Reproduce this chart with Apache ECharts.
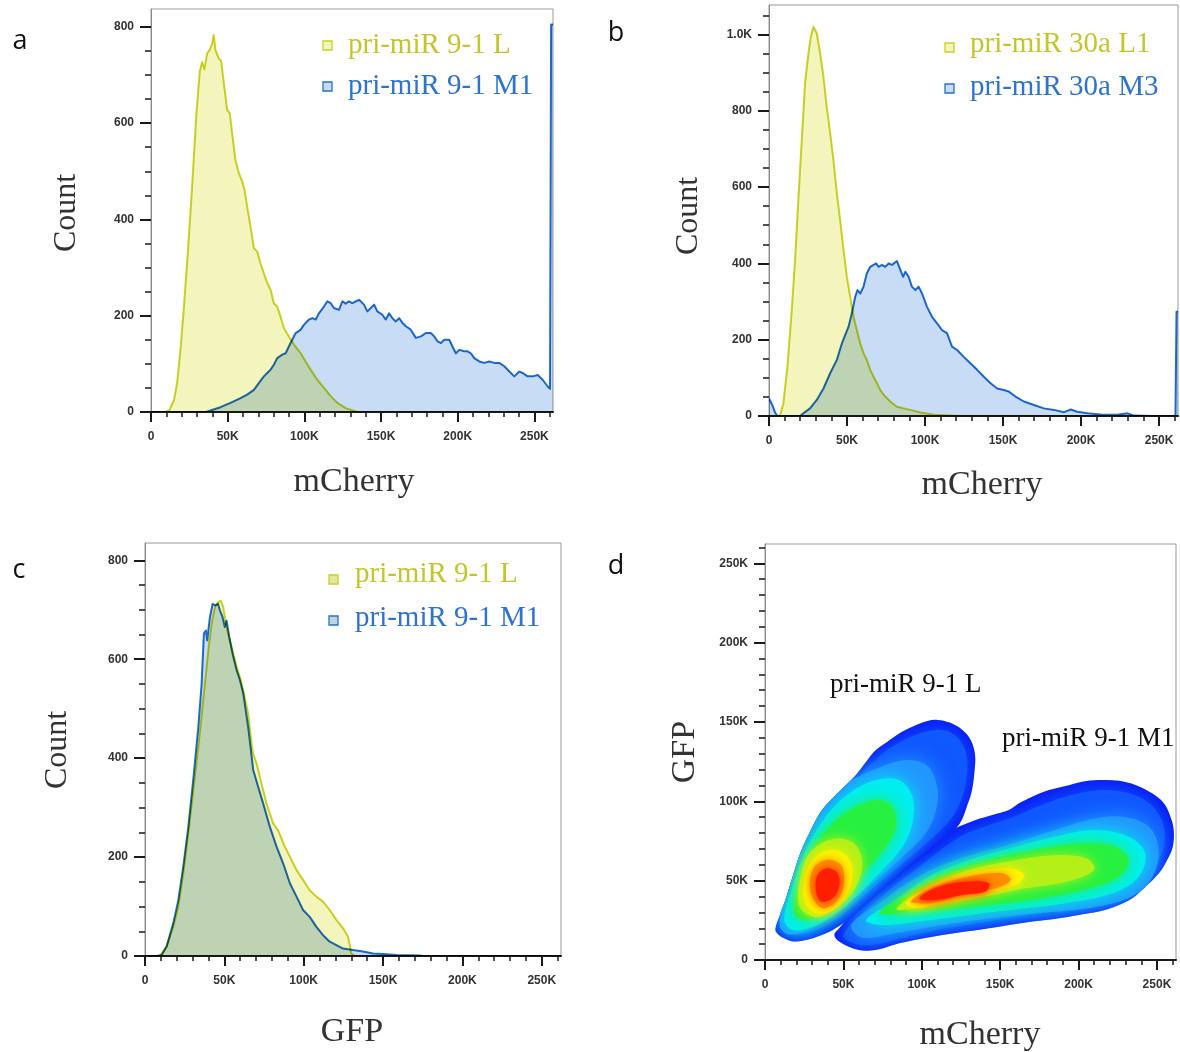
<!DOCTYPE html>
<html><head><meta charset="utf-8">
<script src="https://cdn.jsdelivr.net/npm/echarts/dist/echarts.min.js"></script>
<style>html,body{margin:0;padding:0;background:#fff}#c{width:1180px;height:1052px}</style>
</head><body><div id="c"></div>
<script>
// ---------- tick values / labels (x in thousands) ----------
const XMAX = 262.144;
const xTickVals = [0, 50, 100, 150, 200, 250];
const xTickLabels = ['0', '50K', '100K', '150K', '200K', '250K'];
const yTickValsA = [0, 200, 400, 600, 800];
const yTickLabelsA = ['0', '200', '400', '600', '800'];
const yTickValsB = [0, 200, 400, 600, 800, 1000];
const yTickLabelsB = ['0', '200', '400', '600', '800', '1.0K'];
const yTickValsC = [0, 200, 400, 600, 800];
const yTickLabelsC = ['0', '200', '400', '600', '800'];
const yTickValsD = [0, 50, 100, 150, 200, 250];
const yTickLabelsD = ['0', '50K', '100K', '150K', '200K', '250K'];

// ---------- panel a: mCherry histograms ----------
const histA_L = [[0,0],[9.4,0],[12,4],[15,25],[17,60],[19.2,129],[21.3,212],[24,330],[26.8,468],[29.6,620],[31.8,707],[33.3,727],[34.8,712],[36.6,745],[38.3,752],[39.9,765],[40.9,783],[42,752],[44.2,734],[45.7,730],[47.5,683],[49.7,627],[51.4,620],[52.9,579],[55.1,523],[57.3,496],[59.5,479],[61,461],[62.7,427],[64.9,385],[67.1,340],[69.3,333],[71.4,309],[73.6,288],[75.8,268],[78,254],[80.1,226],[82.3,219],[84.5,198],[86.7,174],[89.9,157],[93.2,140],[97.6,122],[100.8,105],[104.1,88],[108.4,67],[112.8,50],[117.2,33],[121.5,19],[127,8],[134.6,0],[262.144,0]];
const histA_M = [[0,0],[36,0],[38.8,3],[45.3,10],[51.8,19],[58.4,29],[62.7,36],[67.1,46],[70.3,60],[73.6,74],[75.8,81],[78,88],[80.1,98],[82.3,112],[85.6,119],[87.8,122],[89.9,136],[92.1,150],[94.3,164],[95.8,167],[97.6,171],[99.7,181],[103,192],[105.2,195],[107.4,192],[109.5,205],[112.8,219],[115,230],[117.2,226],[119.3,216],[122.6,212],[124.8,230],[127,225],[129.1,230],[131.3,226],[133.5,230],[135.7,233],[138.9,223],[141.1,209],[143.3,216],[145.5,223],[147.6,209],[150.9,202],[153.1,192],[155.3,205],[157.4,195],[159.6,188],[161.8,195],[164,185],[166.2,178],[169.4,171],[172.7,154],[176,157],[179.2,164],[182.5,164],[184.7,157],[186.8,147],[189,143],[191.2,150],[194.5,150],[196.6,136],[198.8,122],[201,129],[204.3,126],[206.4,126],[208.6,122],[210.8,112],[214.1,105],[217.3,102],[220.6,105],[223.9,102],[227.1,102],[230.4,95],[233.7,84],[236.9,74],[240.2,84],[242.4,81],[245.6,74],[248.9,74],[252.2,77],[255.4,67],[258.7,53],[260.2,48],[260.9,805],[262.144,805]];

// ---------- panel b ----------
const histB_L = [[0,0],[7,0],[9.2,33],[11.8,129],[14.6,278],[16.7,409],[18.8,566],[21,723],[23.1,872],[25.3,950],[26.8,994],[28.5,1020],[30.6,1003],[32.8,950],[34.9,889],[37,810],[39.2,741],[41.3,671],[43.5,583],[45.6,514],[47.8,435],[49.9,365],[52,313],[54.2,260],[56.3,225],[58.5,190],[60.6,164],[62.7,147],[64.9,121],[67,103],[69.2,86],[71.3,68],[74.5,51],[77.7,38],[82,24],[86.3,20],[90.6,16],[97,9],[105.6,3],[122.7,0],[262.144,0]];
const histB_M = [[0,46],[2,30],[4,8],[5.5,0],[20,0],[22,7],[26.3,20],[30.6,42],[34.9,72],[39.2,112],[43.5,147],[46.7,190],[48.8,212],[51,234],[53.1,269],[55.3,313],[56.7,330],[58.5,321],[60.6,339],[62.7,374],[64.9,391],[67,396],[68.7,400],[70.2,391],[72.4,396],[74.5,391],[76.7,400],[78.8,396],[82,406],[84.2,383],[85.9,365],[87.4,378],[89.5,365],[91.6,339],[93.8,330],[95.9,339],[98.1,321],[101.3,286],[104.5,260],[107.7,243],[110.9,225],[114.1,217],[117.3,182],[120.6,173],[124.8,155],[129.1,138],[133.4,121],[137.7,103],[142,86],[146.3,72],[150.5,68],[153.7,64],[158,51],[163.4,38],[169.8,29],[176.2,20],[182.7,16],[189.1,10],[193.4,17],[197.6,11],[204.1,7],[212.6,4],[223.3,3],[229.8,7],[234,1],[244.8,0],[260.5,0],[261.2,273],[262.144,273]];

// ---------- panel c: GFP histograms ----------
const histC_L = [[0,0],[9.4,0],[13.6,19],[17.8,59],[21,100],[24.1,167],[27.3,248],[30.4,335],[33.6,423],[36.7,517],[39.9,618],[42,672],[44.1,706],[46.2,716],[47.8,718],[49.3,706],[51.4,665],[53.5,638],[55.6,611],[57.7,585],[59.8,564],[61.9,537],[65,490],[67.5,420],[68.2,409],[70.3,389],[73.4,349],[76.6,308],[80.8,268],[83.9,254],[88.1,221],[91.3,201],[95.5,174],[99.6,154],[103.8,133],[108,120],[112.2,110],[116.4,93],[120.6,73],[124.8,56],[128,39],[130,5],[132.2,0],[262.144,0]];
const histC_M = [[0,0],[7.3,0],[10.5,2],[13.6,19],[17.8,66],[21,113],[24.1,180],[27.3,261],[30.4,356],[33.6,463],[35.7,551],[37.1,652],[38.4,658],[39.2,638],[40.9,685],[42.6,712],[44.3,709],[46,712],[47.2,699],[48.9,685],[50.3,665],[51.4,678],[53.1,645],[55.2,611],[57.7,578],[59.8,558],[61.9,531],[65,463],[68.2,376],[71.3,342],[74.5,308],[78.7,261],[82.9,221],[87.1,187],[91.3,147],[95.5,120],[99.6,93],[103.8,79],[108,59],[112.2,42],[116.4,29],[120.6,22],[124.8,15],[131.1,12],[137.4,9],[143.7,5],[150,4],[158.4,2],[173,1],[175,0],[262.144,0]];

// ---------- panel d: density contours (mCherry K, GFP K) ----------
const dM_outer = [[44.2,15.8],[47.3,20.0],[70,45],[95,66],[115,80],[134.4,88.2],[145.0,91.4],[155.6,94.5],[162.0,98.7],[170.5,102.9],[181.1,107.1],[191.7,109.7],[202.3,112.4],[212.9,113.4],[225.7,113.0],[236.3,110.3],[246.9,105.0],[254.4,98.7],[258.6,90.3],[260.7,81.9],[260.1,71.4],[256.5,63.0],[251.2,54.6],[242.7,46.2],[234.2,38.9],[225.7,34.7],[212.9,30.5],[200.2,28.4],[187.5,26.3],[170.5,24.2],[149.3,21.0],[128.0,17.9],[106.8,14.7],[85.6,10.5],[72.8,6.7],[64.3,5.9],[55.8,7.4],[47.3,11.6]];
const dM_blue2 = [[50,16],[72,38],[100,60],[125,78],[140,84],[158,90],[175,97],[192,103],[212,107],[228,106],[242,101],[251,92],[255,80],[253,67],[246,56],[235,46],[222,39],[205,34],[185,31],[165,28],[140,24],[115,20],[92,15],[72,10],[58,10]];
const dM_light = [[55,22],[73,36],[94,50.4],[121.6,63.0],[151.4,71.4],[178.9,79.8],[206.6,88.2],[227.8,90.3],[244.8,84.0],[251.1,69.3],[246.9,52],[234,40],[208,33],[168,29],[126,24],[83,17],[62,14]];
const dM_cyan = [[64.3,25.2],[83.4,37.8],[104.6,52.5],[130.1,63.0],[159.9,71.4],[189.6,78.8],[210.8,81.9],[232.0,77.7],[242.6,67.2],[238.4,52.5],[221.4,42.0],[189.6,35.5],[147.1,30.5],[104.6,25],[74.9,22]];
const dM_green = [[72.8,29.4],[91.9,42.0],[115.3,54.6],[142.9,63.0],[172.6,69.3],[202.3,73.5],[223.5,71.4],[232.0,63.0],[225.7,52.5],[202.3,44.1],[168.4,37.8],[130.1,33.6],[96.2,30.5]];
const dM_yg = [[84,32],[100,44],[125,55],[155,62],[185,66],[205,64],[210,57],[195,50],[165,45],[135,39],[105,34]];
const dM_yellow = [[89.8,35.7],[104.6,46.2],[130.1,54.6],[155.6,57.8],[165.2,53.6],[159.9,47.3],[136.5,42.0],[111.0,35.7],[96.2,32.6]];
const dM_orange = [[93.0,36.8],[106.8,45.2],[130.1,52.5],[151.4,54.6],[156.7,50.4],[147.1,45.2],[125.9,41.0],[104.6,35.7]];
const dM_red = [[98.3,38.9],[111.0,46.2],[130.1,49.4],[142.9,48.3],[140.7,43.1],[125.9,41.0],[108.9,37.8]];

const dL_outer = [[6.6,19.3],[9.1,27.3],[13.0,37.8],[17.6,52.5],[22.9,68.3],[29.3,81.9],[35.7,93.5],[42.0,100.8],[49.5,108.2],[58.0,116.6],[65.4,126.1],[70.7,132.4],[78.1,137.6],[86.6,143.3],[95.1,147.5],[103.6,150.6],[110.0,151.3],[117.8,149.6],[125.9,145.0],[131.2,138.7],[134.0,129.2],[133.5,117.6],[131.8,106.1],[128.7,96.6],[125.5,88.2],[121.7,83.0],[111.0,74.6],[96.2,63.0],[81.3,50.4],[68.6,38.9],[58.0,29.4],[47.3,21.4],[38.9,16.8],[28.2,13.0],[18.7,11.6],[12.3,13.7],[8.1,16.4]];
const dL_blue2 = [[11,22],[15,37],[21,54],[29,73],[38,89],[50,103],[64,120],[79,133],[94,141],[109,145],[119,143],[126,136],[129,126],[128,111],[123,96],[116,86],[100,71],[83,57],[66,43],[51,30],[39,22],[27,17],[16,17]];
const dL_light = [[9.5,21.5],[13.4,46.2],[21.8,69.3],[34.6,94.5],[50,110],[70,120],[90,126],[104,122],[110,108],[109,94],[102.5,79.8],[87.7,65.1],[68.6,48.3],[49.4,31.5],[32.5,21.0],[16,16]];
const dL_cyan = [[12.3,25.2],[17.6,46.2],[26.1,69.3],[38.8,90.3],[53.7,105.0],[70.7,113.4],[85.5,113.4],[94.0,103.0],[94.0,86.1],[87.7,71.4],[74.9,56.7],[60.1,42.0],[45.2,29.4],[30.3,21.0],[17.6,18.9]];
const dL_green = [[18.7,29.4],[22.9,50.4],[30.3,69.3],[43.1,86.1],[58.0,96.6],[72.8,100.8],[81.3,96.6],[83.4,84.0],[77.0,71.4],[64.3,56.7],[51.6,42.0],[38.8,31.5],[26.1,25.2]];
const dL_yg = [[22,34],[23,54],[29,68],[42,76],[56,74],[62,62],[58,46],[46,33],[32,27]];
const dL_yellow = [[25.0,37.8],[26.1,54.6],[32.5,65.1],[43.1,69.3],[52.6,65.1],[55.8,54.6],[52.6,42.0],[43.1,31.5],[32.5,29.4]];
const dL_orange = [[29.3,42.0],[30.3,56.7],[38.8,63.0],[48.4,59.9],[50.5,49.4],[46.3,37.8],[36.7,32.6]];
const dL_red = [[32.5,44.1],[33.5,53.6],[39.9,57.8],[46.3,54.6],[47.3,46.2],[43.1,38.9],[35.7,36.8]];

// ---------- styling ----------
const levelColors = {outer:'#0a1ef5', blue2:'#1058ff', light:'#2296ff', cyan:'#00eef0', green:'#28f040', yg:'#b4f018', yellow:'#fcf400', orange:'#ff8c00', red:'#ff1e00'};
const levelBlur = {outer:0, blue2:16, light:20, cyan:18, green:16, yg:12, yellow:10, orange:10, red:8};
const populations = [
  [['outer', dM_outer], ['blue2', dM_blue2], ['light', dM_light], ['cyan', dM_cyan], ['green', dM_green], ['yg', dM_yg], ['yellow', dM_yellow], ['orange', dM_orange], ['red', dM_red]],
  [['outer', dL_outer], ['blue2', dL_blue2], ['light', dL_light], ['cyan', dL_cyan], ['green', dL_green], ['yg', dL_yg], ['yellow', dL_yellow], ['orange', dL_orange], ['red', dL_red]]
];

const YEL_FILL = '#f3f5bc', YEL_LINE = '#cdd428', BLU_FILL = '#c8dcf5', BLU_LINE = '#1f6fd1';
const TICK_FONT = 'Liberation Sans';
const SERIF = '"Liberation Serif", "DejaVu Serif", serif';

function minorTicks(step, max, major) {
  const out = [];
  for (let v = step; v <= max + 1e-9; v += step) {
    const r = Math.round(v * 1000) / 1000;
    if (Math.abs(r / major - Math.round(r / major)) > 1e-6) out.push(r);
  }
  return out;
}
function lookup(vals, labels) {
  return function (v) { const i = vals.findIndex(t => Math.abs(t - v) < 1e-6); return i >= 0 ? labels[i] : ''; };
}

const grids = [
  {left: 151, top: 9, width: 402, height: 403},
  {left: 769, top: 5, width: 409, height: 411},
  {left: 145, top: 543, width: 416, height: 413},
  {left: 765, top: 544, width: 411, height: 416}
].map(g => Object.assign({show: true, borderColor: '#9a9a9a', borderWidth: 1, backgroundColor: 'transparent'}, g));

const xAxes = [], yAxes = [];
function addX(gi) {
  xAxes.push({
    type: 'value', gridIndex: gi, min: 0, max: XMAX, interval: 50, position: 'bottom',
    axisLine: {show: true, onZero: false, lineStyle: {color: '#1a1a1a', width: 2}},
    axisTick: {show: true, customValues: xTickVals, length: 10, lineStyle: {color: '#1a1a1a', width: 2}},
    axisLabel: {show: true, customValues: xTickVals, formatter: lookup(xTickVals, xTickLabels), margin: 19,
      fontFamily: TICK_FONT, fontWeight: 'bold', fontSize: 12, color: '#333'},
    splitLine: {show: false}
  });
  xAxes.push({
    type: 'value', gridIndex: gi, min: 0, max: XMAX, interval: 10, position: 'bottom',
    axisLine: {show: false}, axisLabel: {show: false}, splitLine: {show: false},
    axisTick: {show: true, customValues: minorTicks(10, XMAX, 50), length: 5, lineStyle: {color: '#1a1a1a', width: 1.5}}
  });
}
function addY(gi, ymax, vals, labels, minorStep, majorStep) {
  yAxes.push({
    type: 'value', gridIndex: gi, min: 0, max: ymax, interval: majorStep, position: 'left',
    axisLine: {show: true, onZero: false, lineStyle: {color: '#8a8a8a', width: 1}},
    axisTick: {show: true, customValues: vals, length: 11, lineStyle: {color: '#1a1a1a', width: 2}},
    axisLabel: {show: true, customValues: vals, formatter: lookup(vals, labels), margin: 17,
      fontFamily: TICK_FONT, fontWeight: 'bold', fontSize: 12, color: '#333'},
    splitLine: {show: false}
  });
  yAxes.push({
    type: 'value', gridIndex: gi, min: 0, max: ymax, interval: minorStep, position: 'left',
    axisLine: {show: false}, axisLabel: {show: false}, splitLine: {show: false},
    axisTick: {show: true, customValues: minorTicks(minorStep, ymax, majorStep), length: 6, lineStyle: {color: '#1a1a1a', width: 1.5}}
  });
}
addX(0); addY(0, 837, yTickValsA, yTickLabelsA, 50, 200);
addX(1); addY(1, 1077, yTickValsB, yTickLabelsB, 50, 200);
addX(2); addY(2, 835, yTickValsC, yTickLabelsC, 50, 200);
addX(3); addY(3, XMAX, yTickValsD, yTickLabelsD, 10, 50);

function histSeries(gi, name, pts, fill, stroke) {
  return {
    type: 'custom', name: name, coordinateSystem: 'cartesian2d', xAxisIndex: gi * 2, yAxisIndex: gi * 2,
    data: pts, encode: {x: 0, y: 1}, silent: true, clip: true, z: 3,
    renderItem: function (params, api) {
      if (params.dataIndex !== 0) return null;
      const line = pts.map(p => api.coord(p));
      const poly = line.concat([api.coord([pts[pts.length - 1][0], 0]), api.coord([pts[0][0], 0])]);
      return {type: 'group', children: [
        {type: 'polygon', name: 'mul', shape: {points: poly}, style: {fill: fill, stroke: null, blend: 'multiply'}},
        {type: 'polyline', name: 'mul', shape: {points: line}, style: {fill: null, stroke: stroke, lineWidth: 2, lineJoin: 'round', blend: 'multiply'}}
      ]};
    }
  };
}
const densSeries = {
  type: 'custom', name: 'density', coordinateSystem: 'cartesian2d', xAxisIndex: 6, yAxisIndex: 6,
  data: populations.map(p => p[0][1][0]), encode: {x: 0, y: 1}, silent: true, clip: true, z: 3,
  renderItem: function (params, api) {
    const pop = populations[params.dataIndex];
    const outerPts = pop[0][1].map(p => api.coord(p));
    const inner = pop.slice(1).map(function (c) {
      const col = levelColors[c[0]], blur = levelBlur[c[0]];
      return {type: 'polygon', shape: {points: c[1].map(p => api.coord(p)), smooth: 0.35},
        style: {fill: col, stroke: null, shadowBlur: blur, shadowColor: col}};
    });
    return {type: 'group', children: [
      {type: 'polygon', shape: {points: outerPts, smooth: 0.35}, style: {fill: levelColors.outer, stroke: null}},
      {type: 'group', clipPath: {type: 'polygon', shape: {points: outerPts, smooth: 0.35}}, children: inner}
    ]};
  }
};

function txt(x, y, text, font, fill, align, rot) {
  return {type: 'text', x: x, y: y, rotation: rot || 0, silent: true,
    style: {text: text, font: font, fill: fill, align: align || 'center', textAlign: align || 'center',
      verticalAlign: 'middle', textVerticalAlign: 'middle'}};
}
function sq(x, y, fill, stroke) {
  return {type: 'rect', silent: true, shape: {x: x, y: y, width: 9, height: 9}, style: {fill: fill, stroke: stroke, lineWidth: 1.3}};
}
const LETTER = '27px "Open Sans"';
const TITLE = '34px ' + SERIF;
const TITLE_C = '32px ' + SERIF;
const LEG = '29px ' + SERIF;
const LEGY = '#c4c62c', LEGB = '#2e74cf';
const R = Math.PI / 2;
const graphics = [
  txt(20, 41, 'a', LETTER, '#111'), txt(616, 33, 'b', LETTER, '#111'),
  txt(19, 570, 'c', LETTER, '#111'), txt(616, 566, 'd', LETTER, '#111'),
  txt(354, 482, 'mCherry', TITLE, '#333'), txt(982, 485, 'mCherry', TITLE, '#333'),
  txt(352, 1032, 'GFP', TITLE, '#333'), txt(980, 1035, 'mCherry', TITLE, '#333'),
  txt(67, 213, 'Count', TITLE_C, '#333', 'center', R), txt(689, 216, 'Count', TITLE_C, '#333', 'center', R),
  txt(58, 750, 'Count', TITLE_C, '#333', 'center', R), txt(685, 752, 'GFP', TITLE, '#333', 'center', R),
  sq(323, 41, '#f3f5c0', '#c8d21e'), txt(348, 45, 'pri-miR 9-1 L', LEG, LEGY, 'left'),
  sq(323, 82, '#c8dcf3', '#2a6fd0'), txt(348, 86, 'pri-miR 9-1 M1', LEG, LEGB, 'left'),
  sq(945, 43, '#f3f5c0', '#c8d21e'), txt(970, 44, 'pri-miR 30a L1', LEG, LEGY, 'left'),
  sq(945, 84, '#c8dcf3', '#2a6fd0'), txt(970, 87, 'pri-miR 30a M3', LEG, LEGB, 'left'),
  sq(329, 575, '#e2e7a6', '#c8d21e'), txt(355, 574, 'pri-miR 9-1 L', LEG, LEGY, 'left'),
  sq(329, 616, '#bcd6dc', '#2a6fd0'), txt(355, 618, 'pri-miR 9-1 M1', LEG, LEGB, 'left'),
  txt(830, 685, 'pri-miR 9-1 L', '27px ' + SERIF, '#111', 'left'),
  txt(1002, 739, 'pri-miR 9-1 M1', '27px ' + SERIF, '#111', 'left')
];

const chart = echarts.init(document.getElementById('c'), null, {renderer: 'canvas'});
chart.setOption({
  backgroundColor: '#ffffff',
  animation: false,
  grid: grids,
  xAxis: xAxes,
  yAxis: yAxes,
  series: [
    histSeries(0, 'pri-miR 9-1 M1', histA_M, BLU_FILL, BLU_LINE),
    histSeries(0, 'pri-miR 9-1 L', histA_L, YEL_FILL, YEL_LINE),
    histSeries(1, 'pri-miR 30a M3', histB_M, BLU_FILL, BLU_LINE),
    histSeries(1, 'pri-miR 30a L1', histB_L, YEL_FILL, YEL_LINE),
    histSeries(2, 'pri-miR 9-1 M1 (GFP)', histC_M, BLU_FILL, BLU_LINE),
    histSeries(2, 'pri-miR 9-1 L (GFP)', histC_L, YEL_FILL, YEL_LINE),
    densSeries
  ],
  graphic: graphics
});
// overlapping histogram areas are combined multiplicatively (as in the FlowJo overlay)
(function applyBlend() {
  const zr = chart.getZr();
  zr.storage.getDisplayList(true).forEach(function (el) {
    if (el.name === 'mul' && el.style) { el.style.blend = 'multiply'; el.markRedraw(); }
  });
  zr.refreshImmediately();
})();
</script></body></html>
